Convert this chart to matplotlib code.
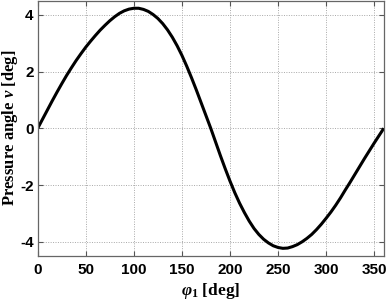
import matplotlib
matplotlib.use("Agg")
import matplotlib.pyplot as plt

phi_deg = list(range(0, 365, 5))
nu_deg = [0.0, 0.32, 0.64, 0.96, 1.27, 1.57, 1.86, 2.13, 2.39, 2.63, 2.86, 3.07, 3.27, 3.46, 3.63, 3.79,
          3.93, 4.05, 4.14, 4.2, 4.23, 4.23, 4.19, 4.12, 4.01, 3.87, 3.69, 3.47, 3.21, 2.91, 2.57, 2.19,
          1.78, 1.35, 0.9, 0.45, 0.0,
          -0.48, -0.96, -1.42, -1.86, -2.27, -2.64, -2.97, -3.27, -3.53, -3.74, -3.91, -4.04, -4.14, -4.2,
          -4.23, -4.22, -4.17, -4.1, -4.0, -3.88, -3.74, -3.57, -3.38, -3.17, -2.95, -2.71, -2.45, -2.17,
          -1.9, -1.62, -1.34, -1.06, -0.79, -0.52, -0.26, 0.0]

xticks = [0, 50, 100, 150, 200, 250, 300, 350]
yticks = [-4, -2, 0, 2, 4]

plt.rcParams['axes.unicode_minus'] = False
plt.rcParams['mathtext.fontset'] = 'custom'
plt.rcParams['mathtext.it'] = 'Liberation Serif:bold:italic'
plt.rcParams['mathtext.rm'] = 'Liberation Serif:bold'
plt.rcParams['mathtext.bf'] = 'Liberation Serif:bold'

fig = plt.figure(figsize=(3.86, 3.0), dpi=100)
ax = fig.add_axes([0.0977, 0.1467, 0.8966, 0.8513])

ax.plot(phi_deg, nu_deg, color='black', linewidth=2.2, solid_capstyle='butt')
ax.set_xlim(0, 360)
ax.set_ylim(-4.5, 4.5)
ax.set_xticks(xticks)
ax.set_yticks(yticks)
ax.grid(True, color='#a8a8a8', linestyle=(0, (1, 1.5)), linewidth=0.7)
ax.tick_params(direction='in', top=True, right=True, length=3.5, width=0.8, colors='#555555',
               labelcolor='black', pad=5)
ax.tick_params(axis='y', pad=3)
for lab in ax.get_xticklabels() + ax.get_yticklabels():
    lab.set_fontfamily('Liberation Sans')
    lab.set_fontweight('bold')
    lab.set_fontsize(11)
for sp in ax.spines.values():
    sp.set_color('#666666')
    sp.set_linewidth(0.9)

ax.set_xlabel(r'$\varphi_1$ [deg]', fontfamily='Liberation Serif', fontweight='bold', fontsize=12.5, labelpad=3)
ax.set_ylabel(r'Pressure angle $\nu$ [deg]', fontfamily='Liberation Serif', fontweight='bold', fontsize=12, labelpad=1)
ax.yaxis.set_label_coords(-0.051, 0.5)

fig.savefig('out.png', dpi=100)
